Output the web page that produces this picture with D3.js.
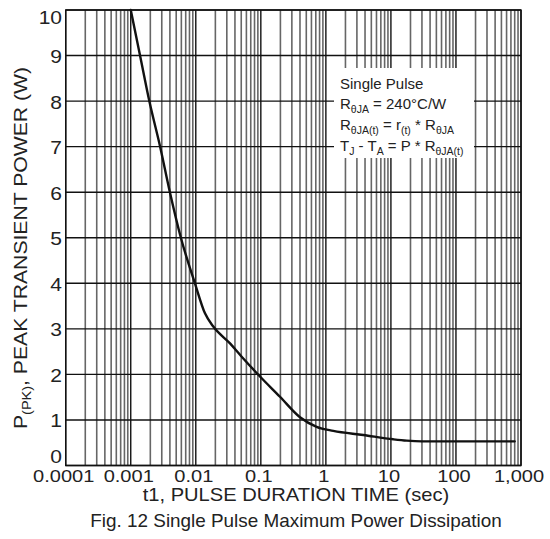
<!DOCTYPE html>
<html>
<head>
<meta charset="utf-8">
<script src="https://cdn.jsdelivr.net/npm/d3@7"></script>
<style>
  html, body { margin: 0; padding: 0; background: #fff; }
  svg { display: block; }
  text { font-family: "Liberation Sans", Arial, Helvetica, sans-serif; fill: #222; }
</style>
</head>
<body>
<svg id="chart" width="550" height="539"></svg>
<script>
// ---- data ----
const pulseTime = [0.001, 0.00139, 0.00193, 0.00283, 0.0040, 0.0059, 0.0097, 0.01385, 0.0186, 0.0336, 0.05, 0.0946, 0.197, 0.40, 0.72, 1.30, 3.76, 10.9, 17.5, 30, 800];
const peakPower = [10.0, 9.0, 8.0, 7.0, 6.0, 5.0, 4.0, 3.34, 3.05, 2.68, 2.40, 1.97, 1.51, 1.06, 0.85, 0.76, 0.67, 0.575, 0.545, 0.53, 0.53];

const xTickValues = [1e-4, 1e-3, 1e-2, 1e-1, 1, 10, 100, 1000];
const xTickLabels = ["0.0001", "0.001", "0.01", "0.1", "1", "10", "100", "1,000"];
const yTickValues = [0, 1, 2, 3, 4, 5, 6, 7, 8, 9, 10];
const yTickLabels = ["0", "1", "2", "3", "4", "5", "6", "7", "8", "9", "10"];
const minorMultipliers = [2, 3, 4, 5, 6, 7, 8, 9];

const xTitle = "t1, PULSE DURATION TIME (sec)";
const caption = "Fig. 12 Single Pulse Maximum Power Dissipation";

// ---- layout ----
const svg = d3.select("#chart");
const plot = { left: 65.7, right: 521, top: 10, bottom: 465.5 };

const x = d3.scaleLog().domain([1e-4, 1e3]).range([plot.left, plot.right]);
const y = d3.scaleLinear().domain([0, 10]).range([plot.bottom, plot.top]);

const g = svg.append("g");

// minor vertical grid
const minorVals = [];
for (let e = -4; e < 3; e++) minorMultipliers.forEach(m => minorVals.push(m * Math.pow(10, e)));
g.append("g").selectAll("line").data(minorVals).join("line")
  .attr("x1", d => x(d)).attr("x2", d => x(d))
  .attr("y1", plot.top).attr("y2", plot.bottom)
  .attr("stroke", "#666").attr("stroke-width", 1.6);

// major vertical grid
g.append("g").selectAll("line").data(xTickValues).join("line")
  .attr("x1", d => x(d)).attr("x2", d => x(d))
  .attr("y1", plot.top).attr("y2", plot.bottom)
  .attr("stroke", "#111").attr("stroke-width", 1.4);

// horizontal grid
g.append("g").selectAll("line").data(yTickValues).join("line")
  .attr("x1", plot.left).attr("x2", plot.right)
  .attr("y1", d => y(d)).attr("y2", d => y(d))
  .attr("stroke", "#111").attr("stroke-width", 1.4);

// frame
g.append("rect").attr("x", plot.left).attr("y", plot.top)
  .attr("width", plot.right - plot.left).attr("height", plot.bottom - plot.top)
  .attr("fill", "none").attr("stroke", "#111").attr("stroke-width", 1.4);

// legend box (white, covers grid)
const lg = svg.append("g");
lg.append("rect").attr("x", 334).attr("y", 68).attr("width", 140).attr("height", 90).attr("fill", "#fff");

// curve
const line = d3.line().x((d, i) => x(pulseTime[i])).y(d => y(d)).curve(d3.curveMonotoneX);
svg.append("path").datum(peakPower).attr("d", line)
  .attr("fill", "none").attr("stroke", "#111").attr("stroke-width", 2.4)
  .attr("stroke-linejoin", "round").attr("stroke-linecap", "round");

// helper: stretched text
function stretched(parent, tx, ty, rot, sx, size, anchor, str) {
  const gg = parent.append("g").attr("transform", `translate(${tx},${ty}) rotate(${rot}) scale(${sx},1)`);
  return gg.append("text").attr("text-anchor", anchor).attr("font-size", size).text(str);
}

// x tick labels
xTickValues.forEach((v, i) => {
  stretched(svg, x(v) - 2, 482, 0, 1.18, 17, "middle", xTickLabels[i]);
});

// y tick labels
yTickValues.forEach((v, i) => {
  const yy = Math.min(Math.max(y(v) + 7.5, 23.5), 463);
  stretched(svg, 62, yy, 0, 1.2, 17.5, "end", yTickLabels[i]);
});

// x title and caption
stretched(svg, 296, 500.5, 0, 1.15, 17.5, "middle", xTitle);
stretched(svg, 296, 527, 0, 1.05, 18, "middle", caption);

// y title with subscript
{
  const gg = svg.append("g").attr("transform", `translate(27,248) rotate(-90) scale(1.21,1)`);
  const t = gg.append("text").attr("text-anchor", "middle").attr("font-size", 17.5);
  t.append("tspan").text("P");
  t.append("tspan").attr("font-size", 12).attr("dy", 4).text("(PK)");
  t.append("tspan").attr("dy", -4).text(", PEAK TRANSIENT POWER (W)");
}

// legend text
{
  const lx = 340, fs = 15, sfs = 10.5;
  const lines = [
    { y: 89, parts: [["Single Pulse", 0]] },
    { y: 108.5, parts: [["R", 0], ["θJA", 1], [" = 240°C/W", 0]] },
    { y: 130, parts: [["R", 0], ["θJA(t)", 1], [" = r", 0], ["(t)", 1], [" * R", 0], ["θJA", 1]] },
    { y: 151, parts: [["T", 0], ["J", 1], [" - T", 0], ["A", 1], [" = P * R", 0], ["θJA(t)", 1]] }
  ];
  lines.forEach(L => {
    const t = lg.append("text").attr("x", lx).attr("y", L.y).attr("font-size", fs);
    let sub = 0;
    L.parts.forEach(([s, isSub]) => {
      const ts = t.append("tspan").text(s);
      if (isSub && !sub) { ts.attr("dy", 4).attr("font-size", sfs); sub = 1; }
      else if (!isSub && sub) { ts.attr("dy", -4); sub = 0; }
      else if (isSub) { ts.attr("font-size", sfs); }
    });
  });
}
</script>
</body>
</html>
